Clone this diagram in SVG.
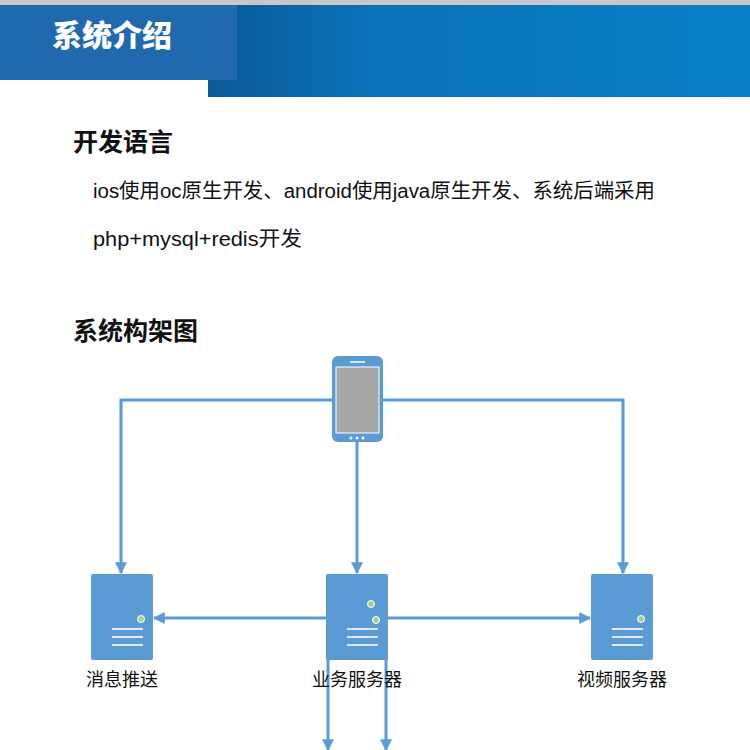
<svg xmlns="http://www.w3.org/2000/svg" width="750" height="750" viewBox="0 0 750 750">
<defs>
<linearGradient id="band" x1="0" y1="0" x2="1" y2="0"><stop offset="0" stop-color="#0a5a98"/><stop offset="0.3" stop-color="#0a72b8"/><stop offset="1" stop-color="#0a80c8"/></linearGradient>
<marker id="ah" viewBox="0 0 10 10" refX="9" refY="5" markerWidth="4" markerHeight="4" orient="auto"><path d="M0,0L10,5L0,10z" fill="#5b9bd5"/></marker>
<g id="srv"><rect x="0" y="0" width="62" height="86" rx="2" fill="#5b9bd5"/><line x1="21" y1="55" x2="52" y2="55" class="w"/><line x1="21" y1="63" x2="52" y2="63" class="w"/><line x1="21" y1="71" x2="52" y2="71" class="w"/></g>
</defs>
<style>
.w{stroke:#dfeaf6;stroke-width:2}
.c{stroke:#5b9bd5;stroke-width:3;fill:none}
.t{font-family:"Liberation Sans","Noto Sans CJK SC",sans-serif;fill:#111}
.dot{fill:#a9d18e;stroke:#fff;stroke-width:1}
</style>
<rect width="750" height="750" fill="#fff"/>
<rect x="0" y="0" width="750" height="6" fill="#c8c8c8"/>
<g id="header">
<rect x="208" y="5" width="542" height="92" fill="url(#band)"/>
<rect x="0" y="5" width="237" height="75" fill="#2069ae"/>
<text x="52" y="46" font-family="'Noto Sans CJK SC',sans-serif" font-weight="900" font-size="30" fill="#fff">系统介绍</text>
</g>
<text class="t" x="73" y="151" font-size="25" font-weight="bold">开发语言</text>
<text class="t" x="93" y="198" font-size="20" textLength="562" lengthAdjust="spacingAndGlyphs">ios使用oc原生开发、android使用java原生开发、系统后端采用</text>
<text class="t" x="93" y="246" font-size="20" textLength="209" lengthAdjust="spacingAndGlyphs">php+mysql+redis开发</text>
<text class="t" x="73" y="340" font-size="25" font-weight="bold">系统构架图</text>
<g id="connectors">
<path class="c" d="M332,400H121V573" marker-end="url(#ah)"/>
<path class="c" d="M383,400H623V573" marker-end="url(#ah)"/>
<path class="c" d="M357,442V573" marker-end="url(#ah)"/>
<path class="c" d="M326,618H154" marker-end="url(#ah)"/>
<path class="c" d="M388,618H590" marker-end="url(#ah)"/>
<path class="c" d="M328,658V750" marker-end="url(#ah)"/>
<path class="c" d="M386,658V750" marker-end="url(#ah)"/>
</g>
<g id="phone">
<rect x="332" y="356" width="51" height="86" rx="6" fill="#5b9bd5"/>
<rect x="336" y="367" width="43" height="66" fill="#a6a6a6" stroke="#fff" stroke-width="1"/>
<line x1="350" y1="362" x2="365" y2="362" stroke="#fff" stroke-width="1.5"/>
<circle cx="351" cy="438" r="1.5" fill="#fff"/><circle cx="357" cy="438" r="1.5" fill="#fff"/><circle cx="363" cy="438" r="1.5" fill="#fff"/>
</g>
<g id="push"><use href="#srv" x="91" y="574"/><circle class="dot" cx="141" cy="619" r="3.5"/>
<text class="t" x="122" y="686" font-size="18" text-anchor="middle">消息推送</text></g>
<g id="biz"><use href="#srv" x="326" y="574"/><circle class="dot" cx="371" cy="604" r="3.5"/><circle class="dot" cx="376" cy="620" r="3.5"/>
<text class="t" x="357" y="686" font-size="18" text-anchor="middle">业务服务器</text></g>
<g id="video"><use href="#srv" x="591" y="574"/><circle class="dot" cx="641" cy="619" r="3.5"/>
<text class="t" x="622" y="686" font-size="18" text-anchor="middle">视频服务器</text></g>
</svg>
